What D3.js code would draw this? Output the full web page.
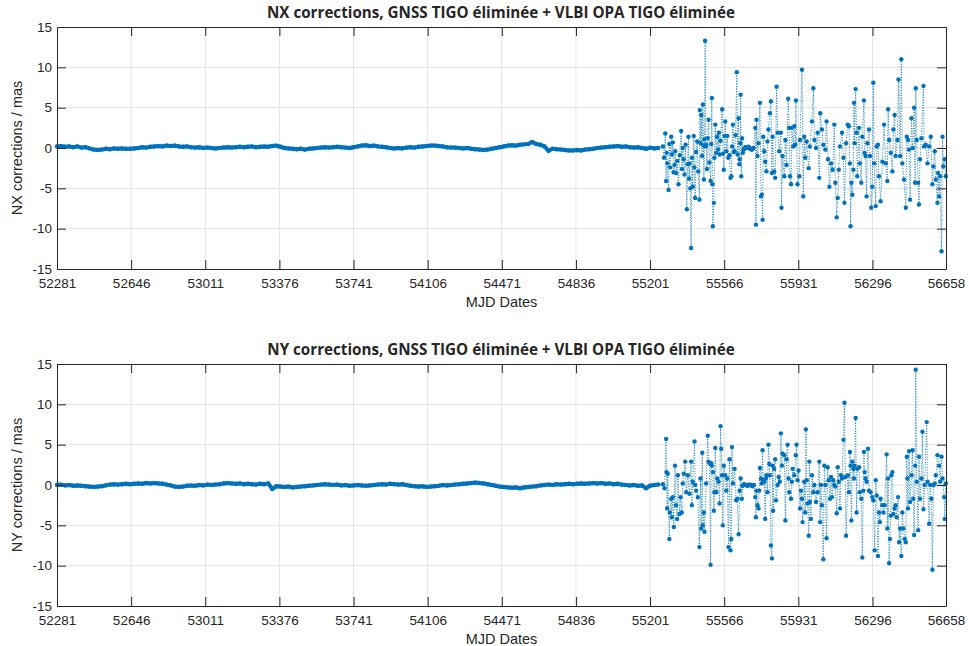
<!DOCTYPE html>
<html>
<head>
<meta charset="utf-8">
<script src="https://cdn.jsdelivr.net/npm/d3@7"></script>
<style>
  body { margin: 0; background: #fff; }
  svg { display: block; }
  text { font-family: "Liberation Sans", Arial, Helvetica, sans-serif; fill: #262626; }
</style>
</head>
<body>
<svg id="fig" width="969" height="646"></svg>
<script>
// ---- axis ticks ----
const xTickValues = [52281, 52646, 53011, 53376, 53741, 54106, 54471, 54836, 55201, 55566, 55931, 56296, 56658];
const yTickValues = [-15, -10, -5, 0, 5, 10, 15];
const xDomain = [52281, 56658];
const yDomain = [-15, 15];

// ---- quiet period: solution sampled every calmStep days from calmStart ----
const calmStart = 52281;
const calmStep = 20;

const nxCalm = [
  0.2, 0.25, 0.15, 0.2, 0.1, 0.2, 0.05, 0.1, -0.05, -0.2,
  -0.25, -0.2, -0.1, -0.15, -0.05, -0.1, -0.05, -0.1, -0.1, -0.05,
  0.0, 0.1, 0.05, 0.15, 0.2, 0.25, 0.2, 0.3, 0.25, 0.3,
  0.2, 0.15, 0.2, 0.1, 0.05, 0.1, 0.0, 0.05, 0.0, -0.05,
  0.0, 0.05, 0.1, 0.05, 0.1, 0.15, 0.1, 0.15, 0.2, 0.1,
  0.15, 0.2, 0.15, 0.25, 0.3, 0.15, 0.0, -0.05, -0.1, -0.15,
  -0.1, -0.2, -0.1, -0.05, 0.0, 0.05, 0.1, 0.05, 0.1, 0.15,
  0.1, 0.05, 0.0, 0.1, 0.2, 0.3, 0.35, 0.25, 0.3, 0.2,
  0.15, 0.1, 0.0, -0.05, 0.0, -0.05, 0.05, 0.1, 0.05, 0.15,
  0.2, 0.25, 0.3, 0.3, 0.25, 0.2, 0.1, 0.05, 0.05, 0.0,
  -0.05, 0.0, -0.1, -0.15, -0.2, -0.25, -0.2, -0.1, 0.0, 0.1,
  0.2, 0.3, 0.35, 0.3, 0.4, 0.45, 0.5, 0.75, 0.5, 0.4,
  0.2, -0.35, -0.1, -0.15, -0.2, -0.25, -0.3, -0.3, -0.25, -0.3,
  -0.2, -0.15, -0.1, 0.0, 0.05, 0.1, 0.15, 0.2, 0.25, 0.15,
  0.2, 0.1, 0.05, 0.1, 0.0, -0.1, 0.05, -0.05, 0.0
];

const nyCalm = [
  0.0, 0.05, -0.05, 0.0, -0.1, -0.05, -0.1, -0.15, -0.2, -0.25,
  -0.2, -0.15, -0.05, 0.05, 0.1, 0.05, 0.1, 0.15, 0.1, 0.15,
  0.2, 0.15, 0.25, 0.2, 0.25, 0.2, 0.15, 0.05, -0.05, -0.2,
  -0.25, -0.2, -0.1, -0.05, -0.1, 0.0, -0.05, 0.05, 0.0, 0.05,
  0.1, 0.2, 0.25, 0.2, 0.15, 0.2, 0.1, 0.15, 0.1, 0.05,
  0.15, 0.1, 0.2, -0.5, -0.15, -0.2, -0.25, -0.2, -0.3, -0.25,
  -0.2, -0.15, -0.1, -0.05, 0.0, 0.05, 0.1, 0.05, 0.0, 0.05,
  -0.05, 0.0, -0.1, -0.05, 0.0, -0.05, -0.1, -0.05, 0.0, 0.05,
  0.1, 0.05, 0.15, 0.1, 0.05, 0.1, 0.0, -0.1, -0.15, -0.2,
  -0.15, -0.25, -0.2, -0.15, -0.1, 0.0, -0.05, 0.0, 0.05, 0.1,
  0.15, 0.2, 0.25, 0.3, 0.25, 0.2, 0.1, 0.0, -0.1, -0.2,
  -0.25, -0.3, -0.35, -0.3, -0.4, -0.3, -0.25, -0.2, -0.15, -0.05,
  0.0, 0.05, 0.0, 0.1, 0.05, 0.1, 0.15, 0.1, 0.15, 0.2,
  0.15, 0.2, 0.25, 0.2, 0.25, 0.15, 0.2, 0.1, 0.15, 0.05,
  0.0, -0.05, 0.0, -0.1, -0.05, -0.4, -0.1, 0.0, 0.05
];

// ---- short quiet stretch between the two active periods: [MJD, mas] ----
const nxQuietMid = [[55662, -0.2], [55670, 0.1], [55678, 0.0], [55686, 0.15], [55694, -0.1], [55702, -0.2], [55710, 0.0]];
const nyQuietMid = [[55656, -0.1], [55664, 0.1], [55672, 0.0], [55680, -0.1], [55688, 0.05], [55696, 0.0], [55704, -0.15], [55712, 0.0]];

// ---- active period, NX corrections: [MJD, mas] ----
const nxActive = [
  [55264, 0.2], [55270, -1.2], [55276, 1.8], [55280, -4.1], [55283, -0.6], [55286, -1.9], [55292, -5.2], [55296, 0.5],
  [55300, -2.4], [55305, 1.4], [55309, -0.8], [55313, 0.7], [55317, -3.0], [55321, -2.1], [55325, -0.4], [55329, -3.1],
  [55335, -1.6], [55341, -4.5], [55347, -0.9], [55354, 2.1], [55358, -2.6], [55362, 0.0], [55366, -1.4], [55370, -3.3],
  [55376, 0.4], [55382, -7.6], [55386, -2.0], [55390, 1.4], [55393, -3.8], [55395, -1.9], [55399, -5.0], [55403, -12.4],
  [55407, -1.2], [55411, -4.8], [55416, 1.5], [55419, -2.4], [55423, -6.2], [55428, -0.5], [55433, 0.8], [55438, -2.9],
  [55444, -6.4], [55446, 4.7], [55450, 0.6], [55453, 4.1], [55457, -1.0], [55461, 5.4], [55464, 0.3], [55466, -3.9],
  [55469, 1.1], [55472, 13.3], [55475, 0.2], [55477, 0.4], [55481, -2.6], [55485, 1.2], [55489, 3.5], [55493, -1.8],
  [55499, -4.1], [55502, 0.5], [55505, 6.2], [55508, -4.5], [55510, -9.7], [55515, -6.8], [55518, -1.2], [55522, 2.9],
  [55526, -0.6], [55531, 1.4], [55536, -0.2], [55540, 1.9], [55543, -0.8], [55548, 0.9], [55556, 4.8], [55560, -0.7],
  [55564, -2.7], [55568, 1.5], [55571, 3.3], [55576, -0.4], [55581, 1.5], [55586, -1.2], [55592, -0.9], [55597, -3.7],
  [55601, -3.5], [55605, 0.2], [55609, 2.9], [55613, -0.5], [55617, -0.4], [55622, 1.6], [55628, 9.4], [55632, -0.8],
  [55637, 3.7], [55640, -2.0], [55642, -1.4], [55645, 0.6], [55647, 6.6], [55650, -3.5], [55654, 1.2], [55658, -0.6],
  [55719, 2.5], [55722, -9.5], [55725, 3.5], [55730, -1.0], [55735, 0.6], [55742, 5.6], [55747, -6.0], [55751, -5.8],
  [55755, -8.9], [55758, 1.4], [55763, -0.4], [55768, -1.7], [55774, -2.9], [55779, 0.8], [55784, 2.3], [55791, 4.3],
  [55796, 5.8], [55801, -3.1], [55804, 1.4], [55812, -2.9], [55817, -3.7], [55824, 7.6], [55829, 1.9], [55837, -0.4],
  [55845, 1.9], [55848, -7.4], [55853, -1.0], [55862, -3.5], [55867, 1.0], [55873, -2.1], [55881, 6.1], [55886, 2.5],
  [55890, -3.5], [55895, -4.5], [55899, 2.5], [55906, 0.2], [55911, 2.7], [55916, 0.4], [55919, 5.9], [55927, -4.5],
  [55936, -3.5], [55939, 1.0], [55949, 9.7], [55955, -6.0], [55960, 1.4], [55965, -1.2], [55972, 0.8], [55982, -2.5],
  [55988, 0.2], [55998, 3.3], [56005, 7.4], [56010, 1.0], [56018, 0.0], [56026, 1.9], [56034, -3.7], [56039, 4.3],
  [56047, 2.3], [56054, 0.4], [56064, -0.2], [56070, 3.3], [56077, -1.4], [56084, -4.8], [56092, -1.9], [56100, -2.7],
  [56108, 2.9], [56113, -4.3], [56120, -8.6], [56125, -6.2], [56130, -2.7], [56136, 0.2], [56146, 1.9], [56153, -1.2],
  [56158, -6.8], [56166, 0.6], [56174, 2.9], [56180, 2.7], [56185, -1.9], [56188, -9.7], [56192, -4.3], [56197, -5.8],
  [56202, -2.7], [56205, 5.6], [56208, 0.6], [56213, 7.3], [56218, 1.9], [56221, -3.5], [56230, 2.5], [56234, -1.9],
  [56241, -4.3], [56246, 1.4], [56254, 5.9], [56257, -0.6], [56262, -1.0], [56267, -6.0], [56271, 0.6], [56279, 2.3],
  [56284, -1.0], [56290, -7.4], [56295, -4.8], [56300, 8.1], [56304, -1.9], [56312, -7.2], [56317, 0.2], [56323, 0.4],
  [56328, -3.5], [56336, -6.6], [56345, -1.7], [56353, 2.9], [56361, -1.9], [56369, -4.1], [56373, 4.8], [56378, 1.0],
  [56386, -0.6], [56394, -2.9], [56399, 2.3], [56405, 4.1], [56410, -1.0], [56419, 1.0], [56424, 8.5], [56432, -1.0],
  [56438, 11.0], [56443, -1.9], [56451, -3.9], [56460, -7.4], [56465, 1.4], [56471, 1.0], [56476, -0.2], [56481, -6.4],
  [56488, 3.7], [56494, 0.0], [56501, 5.0], [56506, -4.3], [56509, 7.4], [56514, 1.0], [56521, -4.3], [56525, -7.0],
  [56530, -1.4], [56537, 1.2], [56547, 7.7], [56550, 0.2], [56558, 0.4], [56567, -1.9], [56575, 0.2], [56583, 1.4],
  [56591, -4.5], [56596, -2.3], [56603, -0.4], [56608, -3.9], [56616, -6.8], [56619, -3.1], [56624, -6.0], [56629, -3.5],
  [56636, -12.8], [56641, 1.4], [56645, -2.3], [56652, -1.4], [56657, -3.5]
];

// ---- active period, NY corrections: [MJD, mas] ----
const nyActive = [
  [55264, 0.1], [55272, -0.4], [55280, 5.7], [55282, 1.6], [55285, -2.9], [55288, 1.4], [55296, -6.7], [55298, -3.4],
  [55305, -1.7], [55308, -4.0], [55313, -1.5], [55318, -5.2], [55324, 2.4], [55329, -2.5], [55334, -4.2], [55338, 1.2],
  [55346, -3.6], [55351, -1.5], [55357, -3.4], [55362, 0.2], [55367, 1.4], [55374, 2.9], [55379, -0.9], [55387, 1.2],
  [55395, -1.1], [55403, 2.9], [55407, -2.5], [55411, 0.4], [55420, 5.4], [55423, 0.0], [55428, -0.7], [55436, -1.5],
  [55444, -7.7], [55449, 0.8], [55453, -5.4], [55458, 4.0], [55461, -5.0], [55466, -3.4], [55469, -5.8], [55477, 0.2],
  [55485, 6.1], [55489, 2.9], [55494, 2.7], [55499, -9.9], [55502, 2.7], [55505, 2.4], [55510, 1.6], [55515, -3.2],
  [55518, -0.9], [55522, 4.6], [55527, -0.9], [55532, 0.8], [55538, 0.4], [55543, -2.3], [55548, 7.3], [55551, 4.5],
  [55555, 1.2], [55559, -5.0], [55564, 2.4], [55571, 1.2], [55576, -0.7], [55581, 0.8], [55587, -7.7], [55592, 3.2],
  [55597, -8.1], [55601, -6.7], [55604, 4.7], [55609, 0.2], [55617, 2.0], [55625, -1.9], [55630, -1.7], [55637, -6.1],
  [55642, -0.7], [55647, 0.8], [55653, -1.7],
  [55719, -1.5], [55722, -4.0], [55725, -0.7], [55730, -2.5], [55735, -2.9], [55738, -0.7], [55742, 2.1], [55747, 0.8],
  [55751, 0.2], [55755, 4.3], [55758, 0.6], [55763, 0.4], [55768, -4.2], [55771, 0.8], [55774, 1.2], [55779, -0.9],
  [55784, 5.0], [55788, 2.6], [55791, 1.2], [55796, -7.5], [55801, -9.1], [55804, 2.4], [55807, -3.2], [55812, 2.0],
  [55817, 3.2], [55821, -1.9], [55829, 0.0], [55834, 1.0], [55840, 0.4], [55845, 6.4], [55850, 2.4], [55853, 3.9],
  [55862, 3.7], [55867, -4.4], [55873, 3.2], [55878, 5.0], [55883, 0.8], [55886, -0.9], [55895, -1.7], [55899, 0.4],
  [55903, 2.0], [55911, 1.2], [55919, 3.7], [55922, 5.0], [55927, 0.6], [55932, 1.8], [55939, -2.9], [55944, -0.7],
  [55949, -1.7], [55952, -4.6], [55960, 0.4], [55965, -3.4], [55968, 6.9], [55972, 0.6], [55977, -2.3], [55982, -6.3],
  [55985, 2.9], [55988, -2.1], [55993, -4.2], [55998, 1.2], [56005, -0.9], [56010, 0.0], [56018, -2.1], [56026, -0.9],
  [56034, 2.9], [56038, -4.6], [56042, 0.0], [56047, -2.5], [56054, -9.2], [56059, 2.4], [56064, 0.0], [56070, -6.6],
  [56075, 2.2], [56080, 0.6], [56087, -1.7], [56092, 1.0], [56097, -1.5], [56103, 0.6], [56108, 0.0], [56113, -0.2],
  [56120, -3.5], [56125, 2.2], [56130, 0.4], [56136, -2.9], [56141, 1.2], [56146, 0.8], [56153, 5.6], [56158, 10.2],
  [56162, 1.0], [56166, -6.3], [56175, 1.2], [56180, -0.9], [56185, 4.1], [56188, 2.4], [56192, -4.4], [56197, 2.9],
  [56202, 2.0], [56205, 0.8], [56208, 2.4], [56213, 8.3], [56218, -3.4], [56221, 2.0], [56230, 2.2], [56234, -0.9],
  [56241, -1.7], [56246, -9.0], [56251, -0.7], [56254, 4.1], [56257, 1.6], [56262, 0.8], [56267, 0.4], [56274, 4.5],
  [56279, -0.7], [56287, -0.9], [56295, -1.5], [56300, -1.9], [56307, -8.1], [56312, 0.6], [56317, -1.3], [56323, -8.8],
  [56328, -3.4], [56333, -4.6], [56336, -1.7], [56345, -2.5], [56350, -3.4], [56356, -2.5], [56366, 3.8], [56369, -5.4],
  [56373, 0.8], [56378, -9.7], [56382, -6.7], [56386, -3.8], [56389, 1.2], [56394, 1.6], [56399, -3.6], [56405, -2.9],
  [56410, -2.5], [56415, -4.0], [56422, -1.5], [56427, -7.1], [56432, -5.4], [56438, -8.8], [56443, -3.4], [56448, -5.4],
  [56455, -6.7], [56460, -7.1], [56465, 3.5], [56468, 0.8], [56471, -2.9], [56476, 4.2], [56481, -2.1], [56488, 1.2],
  [56493, 4.3], [56497, -1.7], [56501, -6.2], [56506, 2.4], [56509, 14.3], [56514, 0.4], [56521, -5.6], [56525, 3.5],
  [56530, -1.7], [56537, 0.8], [56542, 6.6], [56547, -3.0], [56553, 0.0], [56563, 7.8], [56567, 0.4], [56575, -4.8],
  [56580, 0.0], [56586, -1.7], [56591, -10.5], [56596, 0.0], [56603, 0.2], [56608, 1.2], [56616, 3.7], [56624, 2.4],
  [56629, 0.4], [56636, 3.5], [56641, 0.8], [56649, -1.5], [56652, -4.2], [56657, 0.2]
];

// ---- panels ----
const panels = [
  {
    title: "NX corrections, GNSS TIGO éliminée + VLBI OPA TIGO éliminée",
    yLabel: "NX corrections / mas",
    calm: nxCalm, mid: nxQuietMid, active: nxActive,
    top: 27
  },
  {
    title: "NY corrections, GNSS TIGO éliminée + VLBI OPA TIGO éliminée",
    yLabel: "NY corrections / mas",
    calm: nyCalm, mid: nyQuietMid, active: nyActive,
    top: 364
  }
];

const plotLeft = 57, plotWidth = 889, plotHeight = 242;
const lineColor = "#0072BD";
const axisColor = "#262626";
const gridColor = "#e3e3e3";
const tickLen = 9;

const svg = d3.select("#fig");
svg.append("rect").attr("width", 969).attr("height", 646).attr("fill", "#fff");

panels.forEach((p, pi) => {
  const calmPts = p.calm.map((v, i) => [calmStart + i * calmStep, v]);
  const series = calmPts.concat(p.mid, p.active).sort((a, b) => a[0] - b[0]);

  const x = d3.scaleLinear().domain(xDomain).range([0, plotWidth]);
  const y = d3.scaleLinear().domain(yDomain).range([plotHeight, 0]);

  const g = svg.append("g").attr("transform", `translate(${plotLeft},${p.top})`);

  // grid
  g.append("g").selectAll("line")
    .data(xTickValues.slice(1, -1)).join("line")
    .attr("x1", d => x(d)).attr("x2", d => x(d))
    .attr("y1", 0).attr("y2", plotHeight)
    .attr("stroke", gridColor).attr("stroke-width", 1);
  g.append("g").selectAll("line")
    .data(yTickValues.slice(1, -1)).join("line")
    .attr("y1", d => y(d)).attr("y2", d => y(d))
    .attr("x1", 0).attr("x2", plotWidth)
    .attr("stroke", gridColor).attr("stroke-width", 1);

  const clipId = "clip" + pi;
  g.append("clipPath").attr("id", clipId).append("rect")
    .attr("x", -3).attr("y", 0).attr("width", plotWidth + 6).attr("height", plotHeight);

  const dataG = g.append("g").attr("clip-path", `url(#${clipId})`);
  const line = d3.line().x(d => x(d[0])).y(d => y(d[1]));

  // densely sampled quiet stretches read as a solid band
  [calmPts, p.mid].forEach(seg => {
    dataG.append("path")
      .datum(seg)
      .attr("d", line)
      .attr("fill", "none")
      .attr("stroke", lineColor)
      .attr("stroke-width", 4)
      .attr("stroke-linejoin", "round")
      .attr("stroke-linecap", "round");
  });

  // dotted connecting line through every point
  dataG.append("path")
    .datum(series)
    .attr("d", line)
    .attr("fill", "none")
    .attr("stroke", lineColor)
    .attr("stroke-width", 0.9)
    .attr("stroke-dasharray", "1,1.6");

  // point markers
  dataG.append("g").selectAll("circle")
    .data(series).join("circle")
    .attr("cx", d => x(d[0]))
    .attr("cy", d => y(d[1]))
    .attr("r", 2.2)
    .attr("fill", lineColor);

  // axes: box with inward ticks on all four sides
  const xAxisB = d3.axisBottom(x).tickValues(xTickValues).tickSizeInner(-tickLen).tickSizeOuter(0).tickPadding(9).tickFormat(d3.format("d"));
  const xAxisT = d3.axisTop(x).tickValues(xTickValues).tickSizeInner(-tickLen).tickSizeOuter(0).tickFormat("");
  const yAxisL = d3.axisLeft(y).tickValues(yTickValues).tickSizeInner(-tickLen).tickSizeOuter(0).tickPadding(5).tickFormat(d => String(d));
  const yAxisR = d3.axisRight(y).tickValues(yTickValues).tickSizeInner(-tickLen).tickSizeOuter(0).tickFormat("");

  const styleAxis = sel => {
    sel.selectAll("path").attr("stroke", axisColor).attr("stroke-width", 1);
    sel.selectAll("line").attr("stroke", axisColor).attr("stroke-width", 1);
    sel.selectAll("text").attr("fill", "#333").style("font-size", "13.5px")
      .style("font-family", '"Liberation Sans", Arial, sans-serif');
  };

  g.append("g").attr("transform", `translate(0,${plotHeight})`).call(xAxisB).call(styleAxis);
  g.append("g").call(xAxisT).call(styleAxis);
  g.append("g").call(yAxisL).call(styleAxis);
  g.append("g").attr("transform", `translate(${plotWidth},0)`).call(yAxisR).call(styleAxis);

  // titles and axis labels
  g.append("text")
    .attr("x", plotWidth / 2 - 0.5).attr("y", -9)
    .attr("text-anchor", "middle")
    .style("font-family", '"Open Sans", "Liberation Sans", sans-serif')
    .style("font-size", "15.2px").style("font-weight", "bold")
    .attr("fill", "#111")
    .text(p.title);

  g.append("text")
    .attr("x", plotWidth / 2).attr("y", plotHeight + 37.5)
    .attr("text-anchor", "middle")
    .style("font-size", "14.5px")
    .attr("fill", "#333")
    .text("MJD Dates");

  g.append("text")
    .attr("transform", `translate(-35,${plotHeight / 2}) rotate(-90)`)
    .attr("text-anchor", "middle")
    .style("font-size", "14.5px")
    .attr("fill", "#333")
    .text(p.yLabel);
});
</script>
</body>
</html>
